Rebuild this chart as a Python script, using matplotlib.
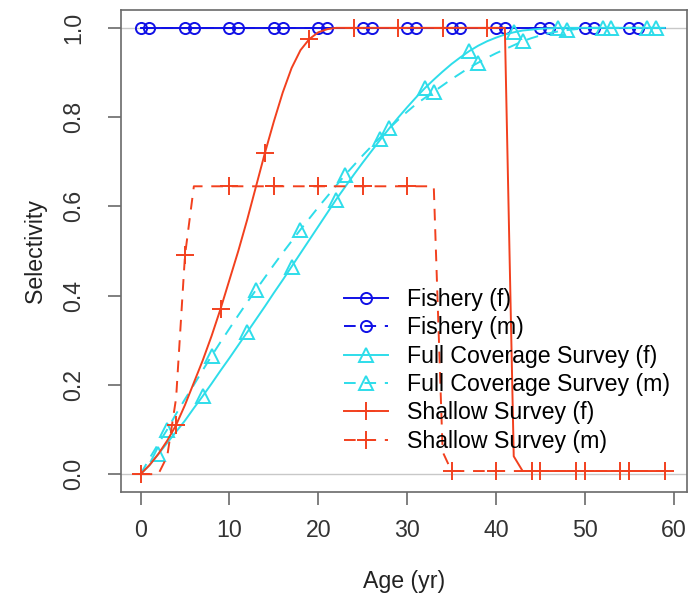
import numpy as np
import matplotlib.pyplot as plt
from matplotlib.lines import Line2D

plt.rcParams['font.family'] = ['Liberation Sans', 'DejaVu Sans']

# Age classes 0..59
ages = np.arange(60)

# Selectivity by age
fishery_f = [1.0, 1.0, 1.0, 1.0, 1.0, 1.0, 1.0, 1.0, 1.0, 1.0,
             1.0, 1.0, 1.0, 1.0, 1.0, 1.0, 1.0, 1.0, 1.0, 1.0,
             1.0, 1.0, 1.0, 1.0, 1.0, 1.0, 1.0, 1.0, 1.0, 1.0,
             1.0, 1.0, 1.0, 1.0, 1.0, 1.0, 1.0, 1.0, 1.0, 1.0,
             1.0, 1.0, 1.0, 1.0, 1.0, 1.0, 1.0, 1.0, 1.0, 1.0,
             1.0, 1.0, 1.0, 1.0, 1.0, 1.0, 1.0, 1.0, 1.0, 1.0]
fishery_m = list(fishery_f)

full_f = [0.0, 0.02, 0.045, 0.07, 0.095, 0.12, 0.148, 0.175, 0.203, 0.232,
          0.26, 0.289, 0.318, 0.347, 0.376, 0.406, 0.435, 0.465, 0.495, 0.525,
          0.555, 0.585, 0.615, 0.643, 0.671, 0.698, 0.724, 0.75, 0.775, 0.799,
          0.822, 0.844, 0.865, 0.884, 0.902, 0.919, 0.934, 0.948, 0.96, 0.97,
          0.978, 0.985, 0.99, 0.994, 0.996, 0.998, 0.999, 1.0, 1.0, 1.0,
          1.0, 1.0, 1.0, 1.0, 1.0, 1.0, 1.0, 1.0, 1.0, 1.0]
full_m = [0.0, 0.035, 0.068, 0.10, 0.135, 0.168, 0.2, 0.233, 0.265, 0.296,
          0.326, 0.356, 0.385, 0.413, 0.441, 0.469, 0.496, 0.522, 0.548, 0.573,
          0.598, 0.622, 0.646, 0.67, 0.692, 0.714, 0.735, 0.755, 0.775, 0.794,
          0.812, 0.829, 0.843, 0.857, 0.871, 0.885, 0.898, 0.911, 0.922, 0.933,
          0.943, 0.952, 0.961, 0.97, 0.977, 0.983, 0.988, 0.992, 0.995, 0.997,
          0.999, 1.0, 1.0, 1.0, 1.0, 1.0, 1.0, 1.0, 1.0, 1.0]

shallow_f = [0.0, 0.02, 0.045, 0.075, 0.11, 0.155, 0.205, 0.255, 0.31, 0.37,
             0.435, 0.5, 0.57, 0.645, 0.72, 0.79, 0.855, 0.91, 0.95, 0.975,
             0.99, 0.997, 1.0, 1.0, 1.0, 1.0, 1.0, 1.0, 1.0, 1.0,
             1.0, 1.0, 1.0, 1.0, 1.0, 1.0, 1.0, 1.0, 1.0, 1.0,
             1.0, 1.0, 0.04, 0.007, 0.007, 0.007, 0.007, 0.007, 0.007, 0.007,
             0.007, 0.007, 0.007, 0.007, 0.007, 0.007, 0.007, 0.007, 0.007, 0.007]
shallow_m = [0.0, 0.0, 0.0, 0.04, 0.17, 0.49, 0.645, 0.645, 0.645, 0.645,
             0.645, 0.645, 0.645, 0.645, 0.645, 0.645, 0.645, 0.645, 0.645, 0.645,
             0.645, 0.645, 0.645, 0.645, 0.645, 0.645, 0.645, 0.645, 0.645, 0.645,
             0.645, 0.645, 0.645, 0.645, 0.05, 0.007, 0.007, 0.007, 0.007, 0.007,
             0.007, 0.007, 0.007, 0.007, 0.007, 0.007, 0.007, 0.007, 0.007, 0.007,
             0.007, 0.007, 0.007, 0.007, 0.007, 0.007, 0.007, 0.007, 0.007, 0.007]

labels = ['Fishery (f)', 'Fishery (m)',
          'Full Coverage Survey (f)', 'Full Coverage Survey (m)',
          'Shallow Survey (f)', 'Shallow Survey (m)']

# marker ages for each series (points every 5 years, offset by series)
marks_fishery_f = [0, 5, 10, 15, 20, 25, 30, 35, 40, 45, 50, 55]
marks_fishery_m = [1, 6, 11, 16, 21, 26, 31, 36, 41, 46, 51, 56]
marks_full_f = [2, 7, 12, 17, 22, 27, 32, 37, 42, 47, 52, 57]
marks_full_m = [3, 8, 13, 18, 23, 28, 33, 38, 43, 48, 53, 58]
marks_shallow_f = [4, 9, 14, 19, 24, 29, 34, 39, 44, 49, 54, 59]
marks_shallow_m = [0, 5, 10, 15, 20, 25, 30, 35, 40, 45, 50, 55]

azul = '#1010E6'
ciano = '#2EDDEA'
verm = '#F2401E'
tracejado = (0, (6.0, 4.5))
fs = 16.7

fig = plt.figure(figsize=(6.91, 6.09), dpi=100, facecolor='white')
ax = fig.add_axes([121 / 691, 1 - 492 / 609, 566 / 691, 482 / 609])

ax.axhline(0, color='#C8C8C8', lw=1.0, zorder=1)
ax.axhline(1, color='#C8C8C8', lw=1.0, zorder=1)

series = [
    (fishery_f, marks_fishery_f, azul, '-', 'o', 8),
    (fishery_m, marks_fishery_m, azul, tracejado, 'o', 8),
    (full_f, marks_full_f, ciano, '-', '^', 10),
    (full_m, marks_full_m, ciano, tracejado, '^', 10),
    (shallow_f, marks_shallow_f, verm, '-', '+', 13),
    (shallow_m, marks_shallow_m, verm, tracejado, '+', 13),
]
handles = []
for (vals, marks, cor, ls, mk, ms), lab in zip(series, labels):
    ax.plot(ages, vals, color=cor, ls=ls, lw=1.4, marker=mk, ms=ms,
            markevery=marks, mfc='none', mec=cor, mew=1.4, zorder=3)
    handles.append(Line2D([], [], color=cor, ls=ls, lw=1.4, marker=mk, ms=ms,
                          mfc='none', mec=cor, mew=1.4, label=lab))

ax.set_xlim(-2.2, 61.5)
ax.set_ylim(-0.04, 1.04)
ax.set_xticks([0, 10, 20, 30, 40, 50, 60])
ax.set_yticks([0.0, 0.2, 0.4, 0.6, 0.8, 1.0])
ax.set_yticklabels(['0.0', '0.2', '0.4', '0.6', '0.8', '1.0'], rotation=90, va='center')

for s in ax.spines.values():
    s.set_color('#6A6A6A')
    s.set_linewidth(1.2)
ax.tick_params(direction='out', length=9.5, width=1.2, color='#6A6A6A',
               labelsize=fs, labelcolor='#333333')
ax.tick_params(axis='x', pad=10)
ax.tick_params(axis='y', pad=16)

ax.set_xlabel('Age (yr)', fontsize=fs, color='#222222', labelpad=20)
ax.set_ylabel('Selectivity', fontsize=fs, color='#222222', labelpad=11)

ax.legend(handles=handles, loc='upper left', bbox_to_anchor=(344 / 691, 1 - 288 / 609),
          bbox_transform=fig.transFigure, frameon=False, fontsize=fs, numpoints=1,
          handlelength=1.9, handletextpad=0.8, labelspacing=0.23,
          borderpad=0, borderaxespad=0)

fig.savefig('out.png', dpi=100, facecolor='white')
